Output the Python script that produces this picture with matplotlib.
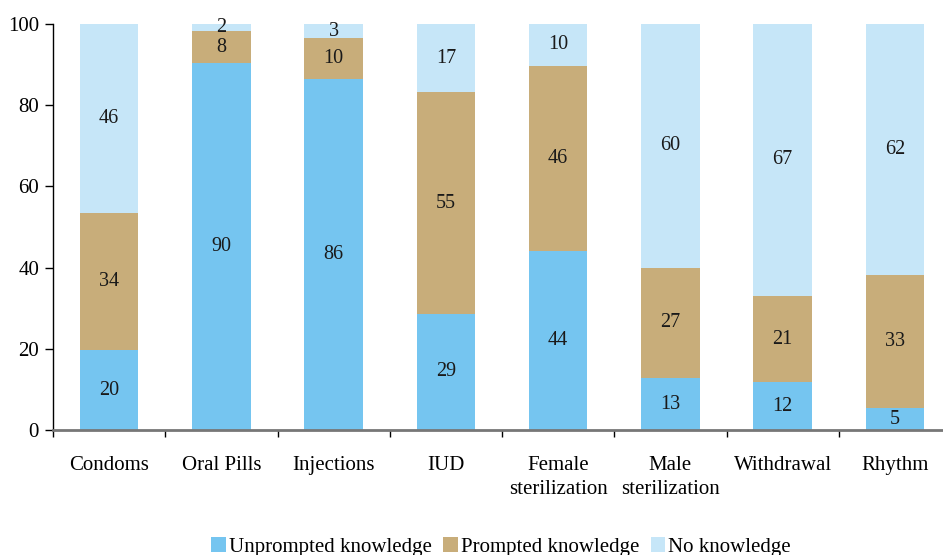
import matplotlib
matplotlib.use("Agg")
import matplotlib.pyplot as plt
import numpy as np
from matplotlib.patches import Patch

categories = ["Condoms", "Oral Pills", "Injections", "IUD", "Female\nsterilization",
              "Male\nsterilization", "Withdrawal", "Rhythm"]
unprompted = [19.6, 90.3, 86.4, 28.6, 44.1, 12.8, 11.7, 5.3]
prompted = [33.9, 8.0, 10.1, 54.6, 45.6, 27.2, 21.4, 33.0]
no_knowledge = [46.4, 1.7, 3.4, 16.8, 10.3, 60.0, 66.9, 61.7]
series_names = ["Unprompted knowledge", "Prompted knowledge", "No knowledge"]
yticks = [0, 20, 40, 60, 80, 100]

colors = ["#75C5F0", "#C8AD7A", "#C6E6F8"]

plt.rcParams['font.family'] = ['Liberation Serif', 'DejaVu Serif']

fig = plt.figure(figsize=(9.43, 5.55), dpi=100)
ax = fig.add_axes([53/943, 1-430/555, (951-53)/943, (430-24)/555])

x = np.arange(len(categories))
w = 0.52
bottom = np.zeros(len(categories))
for vals, col in zip([unprompted, prompted, no_knowledge], colors):
    vals = np.array(vals)
    ax.bar(x, vals, w, bottom=bottom, color=col, zorder=2)
    for xi, b, v in zip(x, bottom, vals):
        ax.text(xi, b + v/2, f"{int(round(v))}", ha='center', va='center',
                fontsize=14.5, color='#1a1a1a', zorder=3)
    bottom = bottom + vals

ax.set_xlim(-0.5, 7.5)
ax.set_ylim(0, 100)
ax.set_yticks(yticks)
ax.tick_params(axis='y', direction='out', length=6, width=1, labelsize=15, pad=4, color='black')
ax.set_xticks(x)
ax.set_xticklabels(categories, fontsize=15, linespacing=1.3)
ax.tick_params(axis='x', which='major', length=0, pad=19)
ax.set_xticks(np.arange(-0.5, 8, 1), minor=True)
ax.tick_params(axis='x', which='minor', direction='out', length=5, width=1, color='black')
for lab in ax.get_xticklabels():
    lab.set_verticalalignment('top')

ax.spines['top'].set_visible(False)
ax.spines['right'].set_visible(False)
ax.spines['left'].set_color('black')
ax.spines['left'].set_linewidth(1)
ax.spines['bottom'].set_color('#777777')
ax.spines['bottom'].set_linewidth(2)
ax.spines['bottom'].set_zorder(4)

handles = [Patch(facecolor=c, edgecolor='none') for c in colors]
fig.legend(handles, series_names, loc='center', bbox_to_anchor=(501/943, 1-547/555),
           ncol=3, frameon=False, fontsize=15, handlelength=0.7, handleheight=0.7,
           handletextpad=0.15, columnspacing=0.55)

fig.savefig("out.png", dpi=100)
